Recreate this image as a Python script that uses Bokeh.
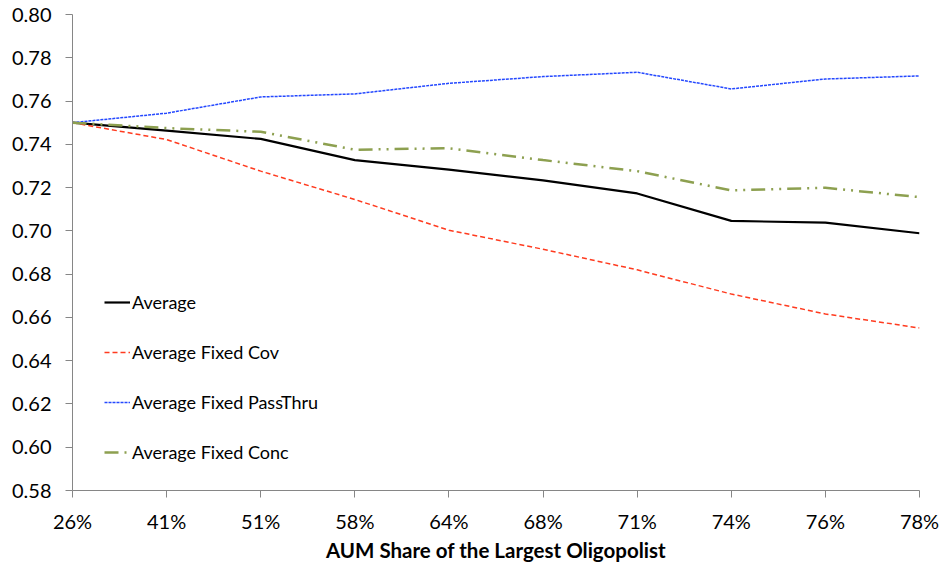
from bokeh.plotting import figure
from bokeh.models import Range1d, FixedTicker, Legend, LegendItem
from bokeh.embed import file_html
from bokeh.resources import INLINE

categories = ["26%", "41%", "51%", "58%", "64%", "68%", "71%", "74%", "76%", "78%"]
average = [0.750, 0.7463, 0.7425, 0.7327, 0.7283, 0.7233, 0.7173, 0.7046, 0.7038, 0.6989]
fixed_cov = [0.750, 0.7422, 0.7276, 0.7145, 0.7003, 0.6915, 0.6820, 0.6708, 0.6616, 0.6551]
fixed_passthru = [0.750, 0.7544, 0.7619, 0.7633, 0.7682, 0.7713, 0.7733, 0.7656, 0.7702, 0.7716]
fixed_conc = [0.750, 0.7475, 0.7458, 0.7375, 0.7382, 0.7327, 0.7276, 0.7187, 0.7199, 0.7156]
y_ticks = [0.58, 0.60, 0.62, 0.64, 0.66, 0.68, 0.70, 0.72, 0.74, 0.76, 0.78, 0.80]

FONT = "Lato"
xs = list(range(len(categories)))

p = figure(width=940, height=564, output_backend="svg", toolbar_location=None,
           x_range=Range1d(0, len(categories) - 1), y_range=Range1d(0.58, 0.80),
           min_border_left=72, min_border_right=21, min_border_top=14, min_border_bottom=70)
p.outline_line_color = None
p.xgrid.visible = False
p.ygrid.visible = False

r1 = p.line(xs, average, line_color="#000000", line_width=2.2)
r2 = p.line(xs, fixed_cov, line_color="#ff3b1f", line_width=1.5, line_dash="5 3")
r3 = p.line(xs, fixed_passthru, line_color="#2448ff", line_width=1.5, line_dash="3 1")
r4 = p.line(xs, fixed_conc, line_color="#8da050", line_width=2.5, line_dash="14 6 2 6 2 6")

p.xaxis.ticker = FixedTicker(ticks=xs)
p.xaxis.major_label_overrides = {i: c for i, c in enumerate(categories)}
p.yaxis.ticker = FixedTicker(ticks=y_ticks)
p.yaxis.major_label_overrides = {t: f"{t:.2f}" for t in y_ticks}

for ax in (p.xaxis, p.yaxis):
    ax.axis_line_color = "#868686"
    ax.major_tick_line_color = "#868686"
    ax.major_tick_in = 0
    ax.major_tick_out = 7
    ax.minor_tick_line_color = None
    ax.major_label_text_font = FONT
    ax.major_label_text_font_size = "20px"
    ax.major_label_text_color = "#000000"

p.xaxis.major_label_standoff = 11
p.yaxis.major_label_standoff = 14
p.xaxis.axis_label = "AUM Share of the Largest Oligopolist"
p.xaxis.axis_label_text_font = FONT
p.xaxis.axis_label_text_font_size = "20.5px"
p.xaxis.axis_label_text_font_style = "bold"
p.xaxis.axis_label_text_color = "#000000"
p.xaxis.axis_label_standoff = 2

legend = Legend(items=[
    LegendItem(label="Average", renderers=[r1]),
    LegendItem(label="Average Fixed Cov", renderers=[r2]),
    LegendItem(label="Average Fixed PassThru", renderers=[r3]),
    LegendItem(label="Average Fixed Conc", renderers=[r4]),
], location=(32, 27))
legend.background_fill_alpha = 0
legend.border_line_color = None
legend.padding = 0
legend.margin = 0
legend.spacing = 28
legend.glyph_width = 26
legend.glyph_height = 20
legend.label_height = 20
legend.label_standoff = 2
legend.label_text_font = FONT
legend.label_text_font_size = "18px"
legend.label_text_color = "#000000"
p.add_layout(legend)

open("out.html", "w").write(file_html(p, INLINE))
